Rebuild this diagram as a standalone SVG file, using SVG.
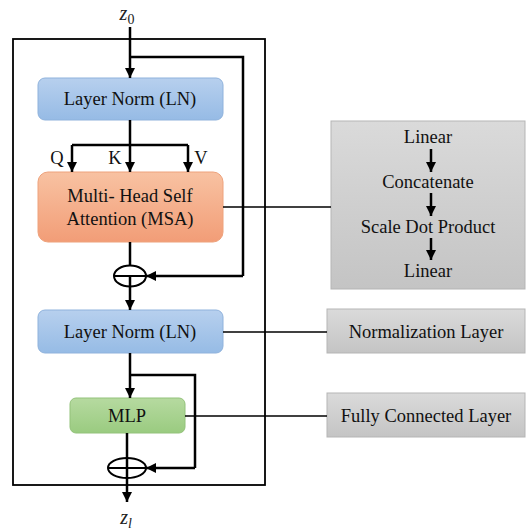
<svg xmlns="http://www.w3.org/2000/svg" width="526" height="531" viewBox="0 0 526 531">
<defs>
<linearGradient id="gBlue" x1="0" y1="0" x2="0" y2="1"><stop offset="0" stop-color="#b7d0ee"/><stop offset="1" stop-color="#96bbe5"/></linearGradient>
<linearGradient id="gOrange" x1="0" y1="0" x2="0" y2="1"><stop offset="0" stop-color="#f8c2a2"/><stop offset="1" stop-color="#f29d77"/></linearGradient>
<linearGradient id="gGreen" x1="0" y1="0" x2="0" y2="1"><stop offset="0" stop-color="#b6daa0"/><stop offset="1" stop-color="#9acb80"/></linearGradient>
<linearGradient id="gGray" x1="0" y1="0" x2="0" y2="1"><stop offset="0" stop-color="#dadada"/><stop offset="1" stop-color="#c4c4c4"/></linearGradient>
<marker id="ah" viewBox="0 0 10 10" refX="10" refY="5" markerWidth="10" markerHeight="10" markerUnits="userSpaceOnUse" orient="auto"><path d="M0,0 L10,5 L0,10 Z" fill="#000"/></marker>
<style>
text{font-family:'Liberation Serif','Times New Roman',serif}
.t{font-size:18.5px;fill:#111;text-anchor:middle}
.c{fill:none;stroke:#000;stroke-width:2.5}
.a{fill:none;stroke:#000;stroke-width:2.5;marker-end:url(#ah)}
.s{fill:none;stroke:#000;stroke-width:1.5}
.m{font-style:italic;fill:#222;text-anchor:middle}
</style>
</defs>
<rect width="526" height="531" fill="#fff"/>
<rect id="outer" x="13" y="39" width="252" height="446" fill="none" stroke="#000" stroke-width="1.8"/>
<g id="ln1"><rect x="38" y="78" width="185" height="42" rx="7" fill="url(#gBlue)" stroke="#8fb2dc"/><text class="t" x="130" y="105">Layer Norm (LN)</text></g>
<g id="msa"><rect x="38" y="172" width="185" height="70" rx="10" fill="url(#gOrange)" stroke="#eea27c"/><text class="t" x="130" y="202">Multi- Head Self</text><text class="t" x="130" y="225">Attention (MSA)</text></g>
<g id="ln2"><rect x="38" y="310" width="185" height="43" rx="7" fill="url(#gBlue)" stroke="#8fb2dc"/><text class="t" x="130" y="338">Layer Norm (LN)</text></g>
<g id="mlp"><rect x="70" y="398" width="115" height="35" rx="6" fill="url(#gGreen)" stroke="#93c27a"/><text class="t" x="127" y="422">MLP</text></g>
<g id="add1"><ellipse cx="130" cy="276" rx="16" ry="10.5" fill="none" stroke="#000" stroke-width="2"/><line x1="114" y1="276" x2="146" y2="276" stroke="#000" stroke-width="2"/></g>
<g id="add2"><ellipse cx="127" cy="468" rx="19" ry="10" fill="none" stroke="#000" stroke-width="2"/><line x1="108" y1="468" x2="146" y2="468" stroke="#000" stroke-width="2"/></g>
<g id="msaDetail"><rect x="331" y="121" width="194" height="168" fill="url(#gGray)" stroke="#b5b5b5"/>
<text class="t" x="428" y="143">Linear</text><text class="t" x="428" y="188">Concatenate</text><text class="t" x="428" y="233">Scale Dot Product</text><text class="t" x="428" y="277">Linear</text></g>
<g id="normLayer"><rect x="327" y="309" width="198" height="44" fill="url(#gGray)" stroke="#b5b5b5"/><text class="t" x="426" y="338">Normalization Layer</text></g>
<g id="fcLayer"><rect x="327" y="393" width="198" height="44" fill="url(#gGray)" stroke="#b5b5b5"/><text class="t" x="426" y="422">Fully Connected Layer</text></g>
<g id="labels">
<text class="m" x="127" y="20" font-size="20">z<tspan font-size="14" font-style="normal" dy="4">0</tspan></text>
<text class="m" x="126" y="524" font-size="20">z<tspan font-size="14" dy="4">l</tspan></text>
<text class="t" x="57" y="164">Q</text><text class="t" x="115" y="164">K</text><text class="t" x="201" y="164">V</text>
</g>
<g id="connectors">
<line class="a" x1="130" y1="27" x2="130" y2="78"/>
<polyline class="c" points="130,57 243,57 243,276"/>
<line class="a" x1="243" y1="276" x2="146" y2="276"/>
<line class="c" x1="130" y1="120" x2="130" y2="145"/>
<polyline class="a" points="72,145 72,172"/>
<line class="c" x1="72" y1="145" x2="188" y2="145"/>
<line class="a" x1="130" y1="145" x2="130" y2="172"/>
<line class="a" x1="188" y1="145" x2="188" y2="172"/>
<line class="c" x1="130" y1="242" x2="130" y2="265.5"/>
<line class="a" x1="130" y1="276" x2="130" y2="310"/>
<line class="a" x1="130" y1="353" x2="130" y2="398"/>
<polyline class="c" points="130,375 195,375 195,468"/>
<line class="a" x1="195" y1="468" x2="146" y2="468"/>
<line class="c" x1="127" y1="433" x2="127" y2="458"/>
<line class="a" x1="127" y1="458" x2="127" y2="502"/>
<line class="s" x1="223" y1="207" x2="331" y2="207"/>
<line class="s" x1="223" y1="332" x2="327" y2="332"/>
<line class="s" x1="185" y1="416" x2="327" y2="416"/>
<line class="a" x1="431" y1="149" x2="431" y2="172"/>
<line class="a" x1="431" y1="193" x2="431" y2="216"/>
<line class="a" x1="431" y1="238" x2="431" y2="260"/>
</g>
</svg>
